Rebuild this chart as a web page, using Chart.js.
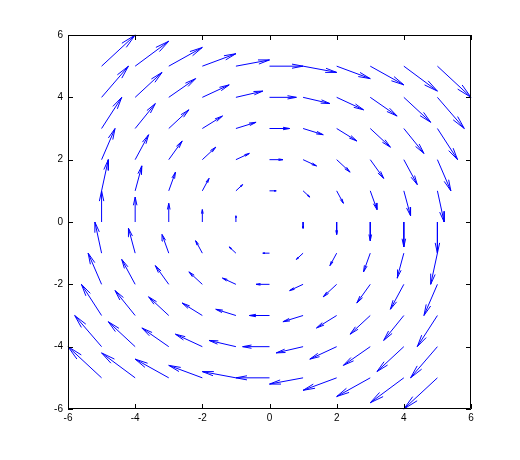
<!DOCTYPE html>
<html>
<head>
<meta charset="utf-8">
<script src="https://cdn.jsdelivr.net/npm/chart.js@4.4.0/dist/chart.umd.min.js"></script>
<style>
  html, body { margin: 0; padding: 0; background: #fff; }
  #wrap { width: 520px; height: 460px; }
</style>
</head>
<body>
<div id="wrap"><canvas id="quiver" width="520" height="460"></canvas></div>
<script>
// grid positions of the arrow tails
const xs = [-5, -4, -3, -2, -1, 0, 1, 2, 3, 4, 5];
const ys = [-5, -4, -3, -2, -1, 0, 1, 2, 3, 4, 5];

// vector components, U[row][col] with row = ys index, col = xs index
const U = [
  [-5, -5, -5, -5, -5, -5, -5, -5, -5, -5, -5],
  [-4, -4, -4, -4, -4, -4, -4, -4, -4, -4, -4],
  [-3, -3, -3, -3, -3, -3, -3, -3, -3, -3, -3],
  [-2, -2, -2, -2, -2, -2, -2, -2, -2, -2, -2],
  [-1, -1, -1, -1, -1, -1, -1, -1, -1, -1, -1],
  [ 0,  0,  0,  0,  0,  0,  0,  0,  0,  0,  0],
  [ 1,  1,  1,  1,  1,  1,  1,  1,  1,  1,  1],
  [ 2,  2,  2,  2,  2,  2,  2,  2,  2,  2,  2],
  [ 3,  3,  3,  3,  3,  3,  3,  3,  3,  3,  3],
  [ 4,  4,  4,  4,  4,  4,  4,  4,  4,  4,  4],
  [ 5,  5,  5,  5,  5,  5,  5,  5,  5,  5,  5],
];
const V = [
  [5, 4, 3, 2, 1, 0, -1, -2, -3, -4, -5],
  [5, 4, 3, 2, 1, 0, -1, -2, -3, -4, -5],
  [5, 4, 3, 2, 1, 0, -1, -2, -3, -4, -5],
  [5, 4, 3, 2, 1, 0, -1, -2, -3, -4, -5],
  [5, 4, 3, 2, 1, 0, -1, -2, -3, -4, -5],
  [5, 4, 3, 2, 1, 0, -1, -2, -3, -4, -5],
  [5, 4, 3, 2, 1, 0, -1, -2, -3, -4, -5],
  [5, 4, 3, 2, 1, 0, -1, -2, -3, -4, -5],
  [5, 4, 3, 2, 1, 0, -1, -2, -3, -4, -5],
  [5, 4, 3, 2, 1, 0, -1, -2, -3, -4, -5],
  [5, 4, 3, 2, 1, 0, -1, -2, -3, -4, -5],
];

const xTicks = [-6, -4, -2, 0, 2, 4, 6];
const yTicks = [-6, -4, -2, 0, 2, 4, 6];

/* ─── arrow geometry (matlab quiver style) ───────────────────────── */
const SCALE = 0.2, ALPHA = 0.33, BETA = 0.2;
const GAP = { x: null, y: null };
const shafts = [], heads = [];
ys.forEach((y, j) => xs.forEach((x, i) => {
  const u = U[j][i] * SCALE, v = V[j][i] * SCALE;
  const tx = x + u, ty = y + v;
  shafts.push({ x, y }, { x: tx, y: ty }, GAP);
  heads.push(
    { x: tx - ALPHA * (u + BETA * v), y: ty - ALPHA * (v - BETA * u) },
    { x: tx, y: ty },
    { x: tx - ALPHA * (u - BETA * v), y: ty - ALPHA * (v + BETA * u) },
    GAP
  );
}));

// box + inward ticks on all four sides
const boxTicks = {
  id: 'boxTicks',
  afterDraw(chart) {
    const { ctx, chartArea: a, scales: { x, y } } = chart;
    const L = 5;
    ctx.save();
    ctx.strokeStyle = '#000';
    ctx.lineWidth = 1;
    ctx.beginPath();
    ctx.rect(a.left + 0.5, a.top + 0.5, a.right - a.left - 1, a.bottom - a.top - 1);
    xTicks.forEach(v => {
      const px = Math.round(x.getPixelForValue(v)) + 0.5;
      ctx.moveTo(px, a.bottom); ctx.lineTo(px, a.bottom - L);
      ctx.moveTo(px, a.top);    ctx.lineTo(px, a.top + L);
    });
    yTicks.forEach(v => {
      const py = Math.round(y.getPixelForValue(v)) + 0.5;
      ctx.moveTo(a.left, py);  ctx.lineTo(a.left + L, py);
      ctx.moveTo(a.right, py); ctx.lineTo(a.right - L, py);
    });
    ctx.stroke();
    ctx.restore();
  }
};

const tickFont = { family: "'Liberation Sans', Arial, sans-serif", size: 10 };

new Chart(document.getElementById('quiver'), {
  type: 'scatter',
  data: {
    datasets: [
      { data: shafts, showLine: true, borderColor: '#0000ff', borderWidth: 1,
        pointRadius: 0, pointHoverRadius: 0, spanGaps: false, clip: false },
      { data: heads, showLine: true, borderColor: '#0000ff', borderWidth: 1,
        pointRadius: 0, pointHoverRadius: 0, spanGaps: false, clip: false },
    ]
  },
  options: {
    responsive: false,
    animation: false,
    events: [],
    layout: { padding: { top: 35, right: 49, left: 0, bottom: 0 } },
    plugins: { legend: { display: false }, tooltip: { enabled: false } },
    scales: {
      x: {
        type: 'linear', min: -6, max: 6,
        afterBuildTicks: s => { s.ticks = xTicks.map(v => ({ value: v })); },
        afterFit: s => { s.height = 51; },
        grid: { display: false, drawTicks: false },
        border: { display: false },
        ticks: { color: '#000', font: tickFont, padding: 3, maxRotation: 0 }
      },
      y: {
        type: 'linear', min: -6, max: 6,
        afterBuildTicks: s => { s.ticks = yTicks.map(v => ({ value: v })); },
        afterFit: s => { s.width = 68; },
        grid: { display: false, drawTicks: false },
        border: { display: false },
        ticks: { color: '#000', font: tickFont, padding: 5 }
      }
    }
  },
  plugins: [boxTicks]
});
</script>
</body>
</html>
